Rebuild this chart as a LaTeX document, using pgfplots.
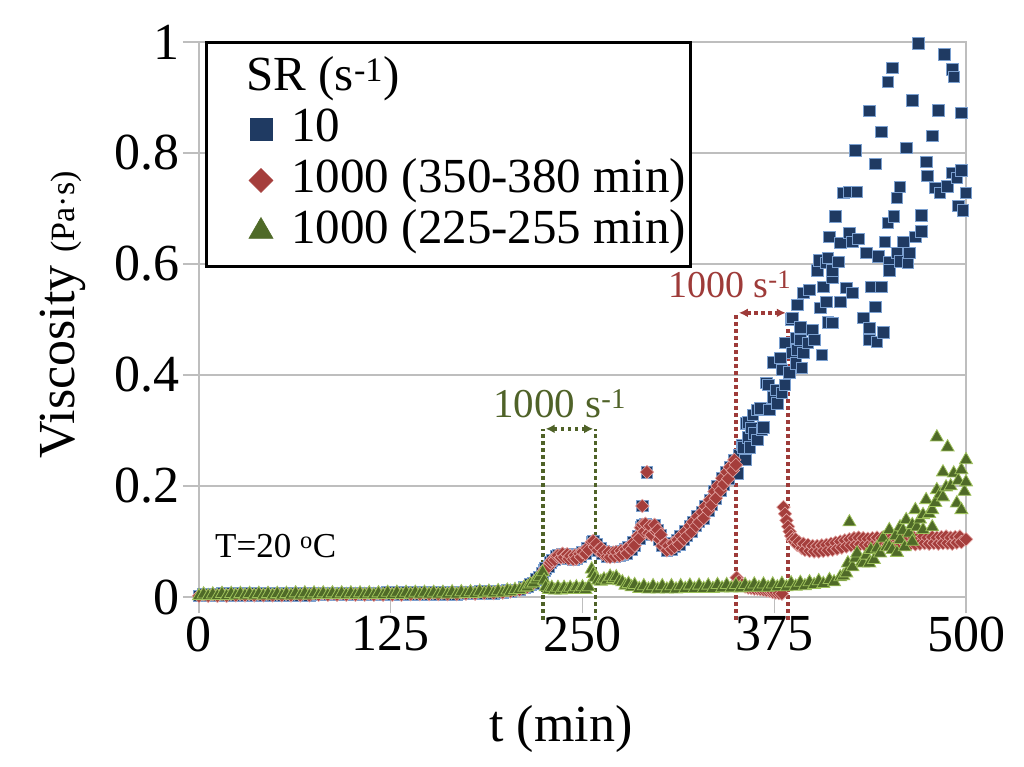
\documentclass[border=0pt]{standalone}
\usepackage{fontspec}
\setmainfont{Liberation Serif}
\usepackage{pgfplots}
\pgfplotsset{compat=1.18}
\usepackage{pgfplotstable}
\usetikzlibrary{arrows.meta}

\definecolor{bluefill}{HTML}{1F3A62}
\definecolor{blueedge}{HTML}{7BA0D0}
\definecolor{redfill}{HTML}{A53E3C}
\definecolor{rededge}{HTML}{E3A6A4}
\definecolor{greenfill}{HTML}{4F6A28}
\definecolor{greenedge}{HTML}{9DC05A}
\definecolor{gridgray}{HTML}{BEBEBE}
\definecolor{annogreen}{HTML}{4F6228}
\definecolor{annored}{HTML}{9E3B39}

\pgfplotstableread{
x y
0 0.002
3 0.005
6 0.002
9 0.005
12 0.002
15 0.006
18 0.002
21 0.006
24 0.003
27 0.006
30 0.003
33 0.006
36 0.003
39 0.006
42 0.003
45 0.006
48 0.003
51 0.006
54 0.003
57 0.006
60 0.003
63 0.007
66 0.003
69 0.007
72 0.003
75 0.007
78 0.004
81 0.007
84 0.004
87 0.007
90 0.004
93 0.007
96 0.004
99 0.007
102 0.004
105 0.007
108 0.004
111 0.007
114 0.004
117 0.007
120 0.004
123 0.008
126 0.004
129 0.008
132 0.004
135 0.008
138 0.005
141 0.008
144 0.005
147 0.008
150 0.005
153 0.008
156 0.005
159 0.008
162 0.005
165 0.009
168 0.005
171 0.009
174 0.006
177 0.009
180 0.006
183 0.010
186 0.007
189 0.010
192 0.007
195 0.011
198 0.008
201 0.012
203 0.010
206 0.013
209 0.013
212 0.017
214 0.018
216 0.023
218 0.025
220 0.032
222 0.036
}\basedata

\pgfplotstableread{
x y
224 0.042
225 0.048
226 0.052
228 0.055
229 0.062
230 0.066
232 0.067
233 0.074
234 0.075
236 0.071
237 0.078
238 0.072
240 0.077
241 0.069
242 0.074
244 0.068
245 0.075
246 0.069
248 0.078
249 0.072
250 0.081
252 0.078
253 0.088
254 0.085
256 0.099
257 0.101
258 0.090
259 0.096
260 0.084
262 0.088
263 0.078
264 0.083
266 0.073
267 0.081
268 0.072
270 0.080
271 0.073
272 0.081
274 0.074
275 0.083
276 0.077
278 0.086
279 0.079
280 0.090
282 0.086
283 0.098
284 0.093
286 0.110
287 0.106
288 0.125
289 0.130
289 0.164
290 0.118
291 0.132
292 0.225
293 0.115
294 0.128
295 0.112
297 0.130
298 0.118
299 0.121
300 0.104
301 0.112
302 0.092
304 0.096
305 0.084
306 0.092
308 0.086
309 0.097
310 0.090
312 0.103
313 0.095
314 0.110
316 0.104
317 0.118
318 0.110
320 0.128
321 0.117
322 0.135
324 0.128
325 0.145
326 0.135
328 0.153
329 0.142
330 0.163
332 0.156
333 0.175
334 0.166
336 0.190
337 0.178
338 0.200
340 0.192
341 0.214
342 0.203
344 0.225
345 0.213
346 0.234
348 0.228
349 0.247
350 0.238
}\middata

\pgfplotstableread{
x y
351 0.223
351 0.247
352 0.256
354 0.274
355 0.270
356 0.247
357 0.313
358 0.288
358 0.315
359 0.270
360 0.305
361 0.328
362 0.295
364 0.283
364 0.337
366 0.340
367 0.301
368 0.306
370 0.386
371 0.382
372 0.337
374 0.360
374 0.423
376 0.373
377 0.349
379 0.431
380 0.368
380 0.409
382 0.382
382 0.458
385 0.405
386 0.500
387 0.440
387 0.503
389 0.421
389 0.467
390 0.445
390 0.526
392 0.463
392 0.486
393 0.413
394 0.440
394 0.548
397 0.458
398 0.553
400 0.481
401 0.463
403 0.589
404 0.607
405 0.521
406 0.436
407 0.559
409 0.532
409 0.602
410 0.495
410 0.611
411 0.649
413 0.494
413 0.575
413 0.589
415 0.686
417 0.604
418 0.532
418 0.638
420 0.728
422 0.557
424 0.656
424 0.730
426 0.548
426 0.640
428 0.805
429 0.730
430 0.645
433 0.503
435 0.620
437 0.876
437 0.485
437 0.463
438 0.559
441 0.780
441 0.523
442 0.460
443 0.614
445 0.838
445 0.559
446 0.477
447 0.640
449 0.928
449 0.674
450 0.604
450 0.589
452 0.953
453 0.686
455 0.719
455 0.620
457 0.739
457 0.605
459 0.640
461 0.809
462 0.602
463 0.620
465 0.895
467 0.649
469 0.998
471 0.688
471 0.659
474 0.784
475 0.759
478 0.831
480 0.737
482 0.877
483 0.728
486 0.978
488 0.740
491 0.951
491 0.764
492 0.937
494 0.755
495 0.705
497 0.872
497 0.769
498 0.697
500 0.728
}\bluetail

\pgfplotstableread{
x y
350.5 0.035
352 0.028
354 0.022
356 0.019
358 0.017
360 0.016
362 0.015
364 0.015
366 0.014
368 0.013
370 0.012
372 0.011
374 0.009
376 0.008
378 0.007
380 0.006
381 0.162
382 0.150
383 0.138
384 0.127
385 0.118
386 0.110
387 0.104
388 0.100
389 0.104
390 0.094
391 0.099
393 0.088
394 0.096
395 0.085
397 0.094
398 0.083
400 0.092
401 0.082
403 0.092
404 0.082
406 0.093
407 0.083
409 0.094
410 0.084
412 0.096
413 0.085
415 0.098
416 0.087
418 0.100
419 0.089
421 0.102
422 0.091
424 0.104
425 0.093
427 0.106
428 0.094
430 0.107
431 0.095
433 0.106
434 0.094
436 0.105
437 0.094
439 0.106
440 0.095
442 0.107
443 0.094
445 0.106
446 0.093
448 0.105
449 0.094
451 0.106
452 0.095
454 0.107
455 0.094
457 0.106
458 0.095
460 0.107
461 0.095
463 0.108
464 0.096
466 0.107
467 0.095
469 0.108
470 0.096
472 0.109
473 0.097
475 0.107
476 0.096
478 0.108
479 0.097
481 0.107
482 0.096
484 0.108
485 0.097
487 0.109
488 0.097
490 0.107
491 0.096
493 0.108
494 0.098
496 0.109
497 0.099
500 0.104
}\redtail

\pgfplotstableread{
x y
224 0.045
225 0.030
226 0.018
228 0.013
230 0.017
232 0.012
234 0.017
236 0.012
238 0.017
240 0.013
242 0.017
244 0.013
246 0.018
248 0.013
250 0.018
252 0.013
254 0.018
256 0.050
257 0.042
258 0.035
260 0.030
262 0.028
264 0.032
266 0.030
268 0.037
270 0.033
272 0.036
274 0.029
276 0.027
278 0.021
280 0.024
282 0.018
284 0.022
287 0.015
290 0.020
293 0.014
296 0.020
299 0.014
302 0.020
305 0.014
308 0.020
311 0.014
314 0.020
317 0.015
320 0.021
323 0.015
326 0.021
329 0.015
332 0.021
335 0.015
338 0.022
341 0.016
344 0.022
347 0.016
350 0.022
353 0.016
356 0.022
359 0.017
362 0.023
365 0.017
368 0.023
371 0.017
374 0.023
377 0.018
380 0.024
383 0.018
386 0.025
389 0.019
392 0.026
395 0.020
398 0.027
401 0.022
404 0.029
407 0.024
411 0.031
414 0.027
418 0.036
420 0.038
422 0.043
423 0.061
424 0.135
426 0.054
428 0.070
429 0.079
432 0.063
433 0.061
435 0.075
437 0.061
438 0.085
440 0.067
442 0.088
444 0.079
446 0.106
448 0.090
450 0.121
450 0.090
452 0.085
454 0.110
455 0.080
457 0.126
457 0.103
459 0.120
460 0.090
461 0.139
463 0.115
465 0.130
465 0.100
467 0.157
468 0.126
470 0.140
472 0.148
472 0.121
474 0.175
476 0.150
478 0.126
478 0.157
480 0.170
481 0.288
481 0.193
483 0.185
485 0.225
485 0.180
487 0.198
488 0.270
490 0.200
492 0.223
494 0.169
495 0.210
497 0.229
497 0.157
499 0.190
500 0.247
500 0.207
}\greentail

\pgfplotsset{
  bluestyle/.style={only marks, mark=square*, mark size=5.8pt,
    mark options={fill=bluefill, draw=blueedge, line width=0.8pt}},
  redstyle/.style={only marks, mark=square*, mark size=4.8pt,
    mark options={rotate=45, fill=redfill, draw=rededge, line width=0.6pt}},
  greenstyle/.style={only marks, mark=triangle*, mark size=7.5pt,
    mark options={fill=greenfill, draw=greenedge, line width=0.8pt}},
}

\begin{document}
\begin{tikzpicture}
\begin{axis}[
  scale only axis, width=767pt, height=555pt,
  xmin=0, xmax=500, ymin=0, ymax=1,
  xtick={0,125,250,375,500}, xticklabels={0,125,250,375,500},
  ytick={0,0.2,0.4,0.6,0.8,1}, yticklabels={0,0.2,0.4,0.6,0.8,1},
  tick pos=left, tick align=outside, major tick length=16pt,
  tick style={draw=gridgray, line width=1.5pt},
  axis line style={draw=gridgray, line width=1.5pt},
  ymajorgrids, grid style={draw=gridgray, line width=1.5pt},
  ticklabel style={font=\fontsize{52}{60}\selectfont},
  /pgf/number format/assume math mode=true,
  xlabel={t (min)},
  xlabel style={font=\fontsize{52}{60}\selectfont, at={(rel axis cs:0.472,-0.238)}, anchor=center},
  ylabel={Viscosity {\fontsize{34}{40}\selectfont (Pa·s)}},
  ylabel style={font=\fontsize{52}{60}\selectfont, at={(rel axis cs:-0.177,0.508)}, anchor=center},
  clip=false,
  legend style={at={(rel axis cs:0.0078,1.001)}, anchor=north west,
    draw=black, line width=3pt, fill=white, inner xsep=4pt, inner ysep=10pt,
    font=\fontsize{49}{52}\selectfont,
    nodes={inner sep=0pt, text height=38pt, text depth=13pt},
    row sep=0pt},
  legend cell align=left,
  legend image code/.code={\path[draw=none, fill=none] (0pt,0pt) -- (81pt,0pt); \draw[#1] plot coordinates {(50.5pt,0pt)};},
]
% SR = 10
\addplot[bluestyle, forget plot] table[x=x,y=y] {\basedata};
\addplot[bluestyle, forget plot] table[x=x,y=y] {\middata};
\addplot[bluestyle, forget plot] table[x=x,y=y] {\bluetail};
% 1000 (350-380)
\addplot[redstyle, forget plot] table[x=x,y=y] {\basedata};
\addplot[redstyle, forget plot] table[x=x,y=y] {\middata};
\addplot[redstyle, forget plot] table[x=x,y=y] {\redtail};
% 1000 (225-255)
\addplot[greenstyle, forget plot] table[x=x,y=y] {\basedata};
\addplot[greenstyle, forget plot] table[x=x,y=y] {\greentail};

% annotations
\draw[annogreen, line width=3.5pt, dash pattern=on 3.5pt off 3.5pt] (axis cs:224.3,-0.041) -- (axis cs:224.3,0.303);
\draw[annogreen, line width=3.5pt, dash pattern=on 3.5pt off 3.5pt] (axis cs:258.5,-0.041) -- (axis cs:258.5,0.303);
\draw[annogreen, line width=3.5pt, dash pattern=on 3.5pt off 3.5pt, {Latex[length=9pt,width=9pt]}-{Latex[length=9pt,width=9pt]}] (axis cs:226,0.303) -- (axis cs:257,0.303);
\draw[annored, line width=3.5pt, dash pattern=on 3.5pt off 3.5pt] (axis cs:350,-0.041) -- (axis cs:350,0.512);
\draw[annored, line width=3.5pt, dash pattern=on 3.5pt off 3.5pt] (axis cs:384,-0.041) -- (axis cs:384,0.512);
\draw[annored, line width=3.5pt, dash pattern=on 3.5pt off 3.5pt, {Latex[length=9pt,width=9pt]}-{Latex[length=9pt,width=9pt]}] (axis cs:352,0.512) -- (axis cs:382.5,0.512);
\node[annogreen, anchor=base west, inner sep=0pt, font=\fontsize{41}{45}\selectfont] at (axis cs:191.7,0.324) {1000 s\textsuperscript{-1}};
\node[annored, anchor=base west, inner sep=0pt, font=\fontsize{38}{42}\selectfont] at (axis cs:305.7,0.540) {1000 s\textsuperscript{-1}};
\node[black, anchor=base west, inner sep=0pt, font=\fontsize{35}{40}\selectfont] at (axis cs:10.4,0.0703) {T=20 \textsuperscript{o}C};

% legend
\addlegendimage{empty legend}
\addlegendentry{\hspace*{-45pt}SR (s\textsuperscript{-1})}
\addlegendimage{only marks, mark=square*, mark size=11pt, mark options={fill=bluefill, draw=bluefill, line width=0.5pt}}
\addlegendentry{10}
\addlegendimage{only marks, mark=square*, mark size=8.5pt, mark options={rotate=45, fill=redfill, draw=redfill, line width=0.5pt}}
\addlegendentry{1000 (350-380 min)}
\addlegendimage{only marks, mark=triangle*, mark size=14pt, mark options={fill=greenfill, draw=greenfill, line width=0.5pt}}
\addlegendentry{1000 (225-255 min)}

\path (rel axis cs:-0.25945,-0.30450) rectangle (rel axis cs:1.07562,1.07568);
\end{axis}
\end{tikzpicture}
\end{document}
